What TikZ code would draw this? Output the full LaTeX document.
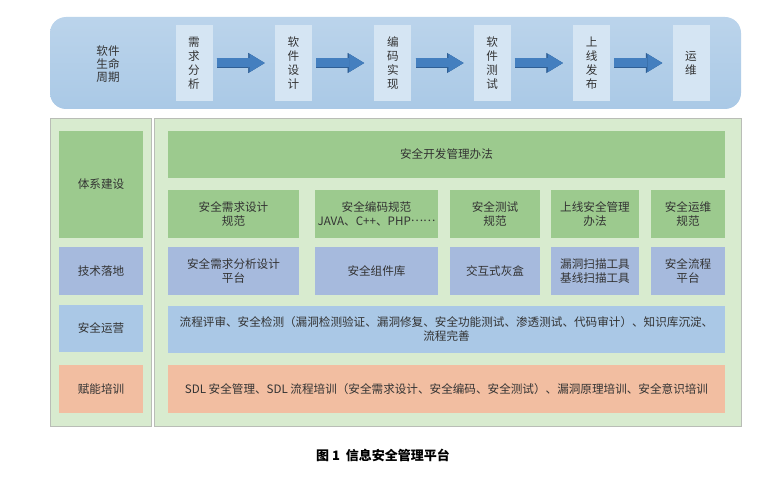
\documentclass[tikz,border=0pt]{standalone}
\usepackage{fontspec}
\setmainfont{Noto Sans CJK SC}
\usetikzlibrary{positioning,arrows.meta}
\definecolor{textgray}{HTML}{333333}
\definecolor{barblue}{HTML}{AAC9E6}
\definecolor{stagefill}{HTML}{D5E5F3}
\definecolor{arrowblue}{HTML}{447FBF}
\definecolor{arrowdark}{HTML}{2F5F95}
\definecolor{panelgreen}{HTML}{D8EBCF}
\definecolor{panelgray}{HTML}{B9BDB6}
\definecolor{rulegreen}{HTML}{9CCA8E}
\definecolor{toolblue}{HTML}{A6BADD}
\definecolor{operblue}{HTML}{AAC8E6}
\definecolor{trainred}{HTML}{F2BEA1}
\newcommand{\middots}{\raisebox{0.32em}{……}}

\begin{document}
\begin{tikzpicture}[x=1pt, y=-1pt, node distance=62pt,
    every node/.style={font=\fontsize{11.6}{14}\selectfont, text=textgray, align=center},
    stage/.style={fill=stagefill, minimum width=37pt, minimum height=76pt, inner sep=0pt},
    flowarrow/.style={draw=arrowblue, line width=9pt, shorten <=4pt, shorten >=10pt,
        -{Triangle[length=15pt, width=18pt, line width=0.4pt]},
        preaction={draw=arrowdark, line width=10.4pt, -{Triangle[length=16.5pt, width=20pt, line width=0.4pt]}}},
    panel/.style={draw=panelgray, fill=panelgreen, line width=0.6pt},
    cell/.style 2 args={minimum width=#1pt, minimum height=#2pt, inner sep=0pt},
    rulecell/.style={fill=rulegreen},
    toolcell/.style={fill=toolblue},
    opercell/.style={fill=operblue},
    traincell/.style={fill=trainred}
]
    \useasboundingbox (0,0) rectangle (778,476);

    % software life cycle
    \node[rounded corners=16pt, minimum width=691pt, minimum height=92pt,
        top color=barblue!80!white, bottom color=barblue] (lifebar) at (395.5,63) {};
    \node[font=\fontsize{11.6}{13}\selectfont] (life) at (108,64) {软件\\生命\\周期};
    \node[stage] (req) at (194,63) {需\\求\\分\\析};
    \node[stage] (des) [right=of req] {软\\件\\设\\计};
    \node[stage] (code) [right=of des] {编\\码\\实\\现};
    \node[stage] (test) [right=of code] {软\\件\\测\\试};
    \node[stage] (rel) [right=of test] {上\\线\\发\\布};
    \node[stage] (ops) [right=of rel] {运\\维};

    \draw[flowarrow] (req) -- (des);
    \draw[flowarrow] (des) -- (code);
    \draw[flowarrow] (code) -- (test);
    \draw[flowarrow] (test) -- (rel);
    \draw[flowarrow] (rel) -- (ops);

    % platform
    \draw[panel] (50,118) rectangle (151,426);
    \draw[panel] (154,118) rectangle (741,426);

    \node[cell={84}{107}, rulecell] (sys) at (101,184.5) {体系建设};
    \node[cell={84}{48}, toolcell] (tech) at (101,271) {技术落地};
    \node[cell={84}{47}, opercell] (oper) at (101,328.5) {安全运营};
    \node[cell={84}{48}, traincell] (train) at (101,389) {赋能培训};

    \node[cell={557}{47}, rulecell] (law) at (446.5,154.5) {安全开发管理办法};
    \node[cell={131}{48}, rulecell] (std1) at (233.5,214) {安全需求设计\\规范};
    \node[cell={123}{48}, rulecell] (std2) at (376.5,214) {安全编码规范\\JAVA、C++、PHP\middots};
    \node[cell={90}{48}, rulecell] (std3) at (495,214) {安全测试\\规范};
    \node[cell={88}{48}, rulecell] (std4) at (595,214) {上线安全管理\\办法};
    \node[cell={74}{48}, rulecell] (std5) at (688,214) {安全运维\\规范};

    \node[cell={131}{48}, toolcell] (tool1) at (233.5,271) {安全需求分析设计\\平台};
    \node[cell={123}{48}, toolcell] (tool2) at (376.5,271) {安全组件库};
    \node[cell={90}{48}, toolcell] (tool3) at (495,271) {交互式灰盒};
    \node[cell={88}{48}, toolcell] (tool4) at (595,271) {漏洞扫描工具\\基线扫描工具};
    \node[cell={74}{48}, toolcell] (tool5) at (688,271) {安全流程\\平台};

    \node[cell={557}{47}, opercell] (flow) at (446.5,329.5)
        {流程评审、安全检测（漏洞检测验证、漏洞修复、安全功能测试、渗透测试、代码审计）、知识库沉淀、\\流程完善};
    \node[cell={557}{48}, traincell] (sdl) at (446.5,389)
        {SDL 安全管理、SDL 流程培训（安全需求设计、安全编码、安全测试）、漏洞原理培训、安全意识培训};

    \node[font=\fontsize{13}{15}\selectfont\bfseries, text=black] (title) at (383,455) {图 1\ \ 信息安全管理平台};
\end{tikzpicture}
\end{document}
